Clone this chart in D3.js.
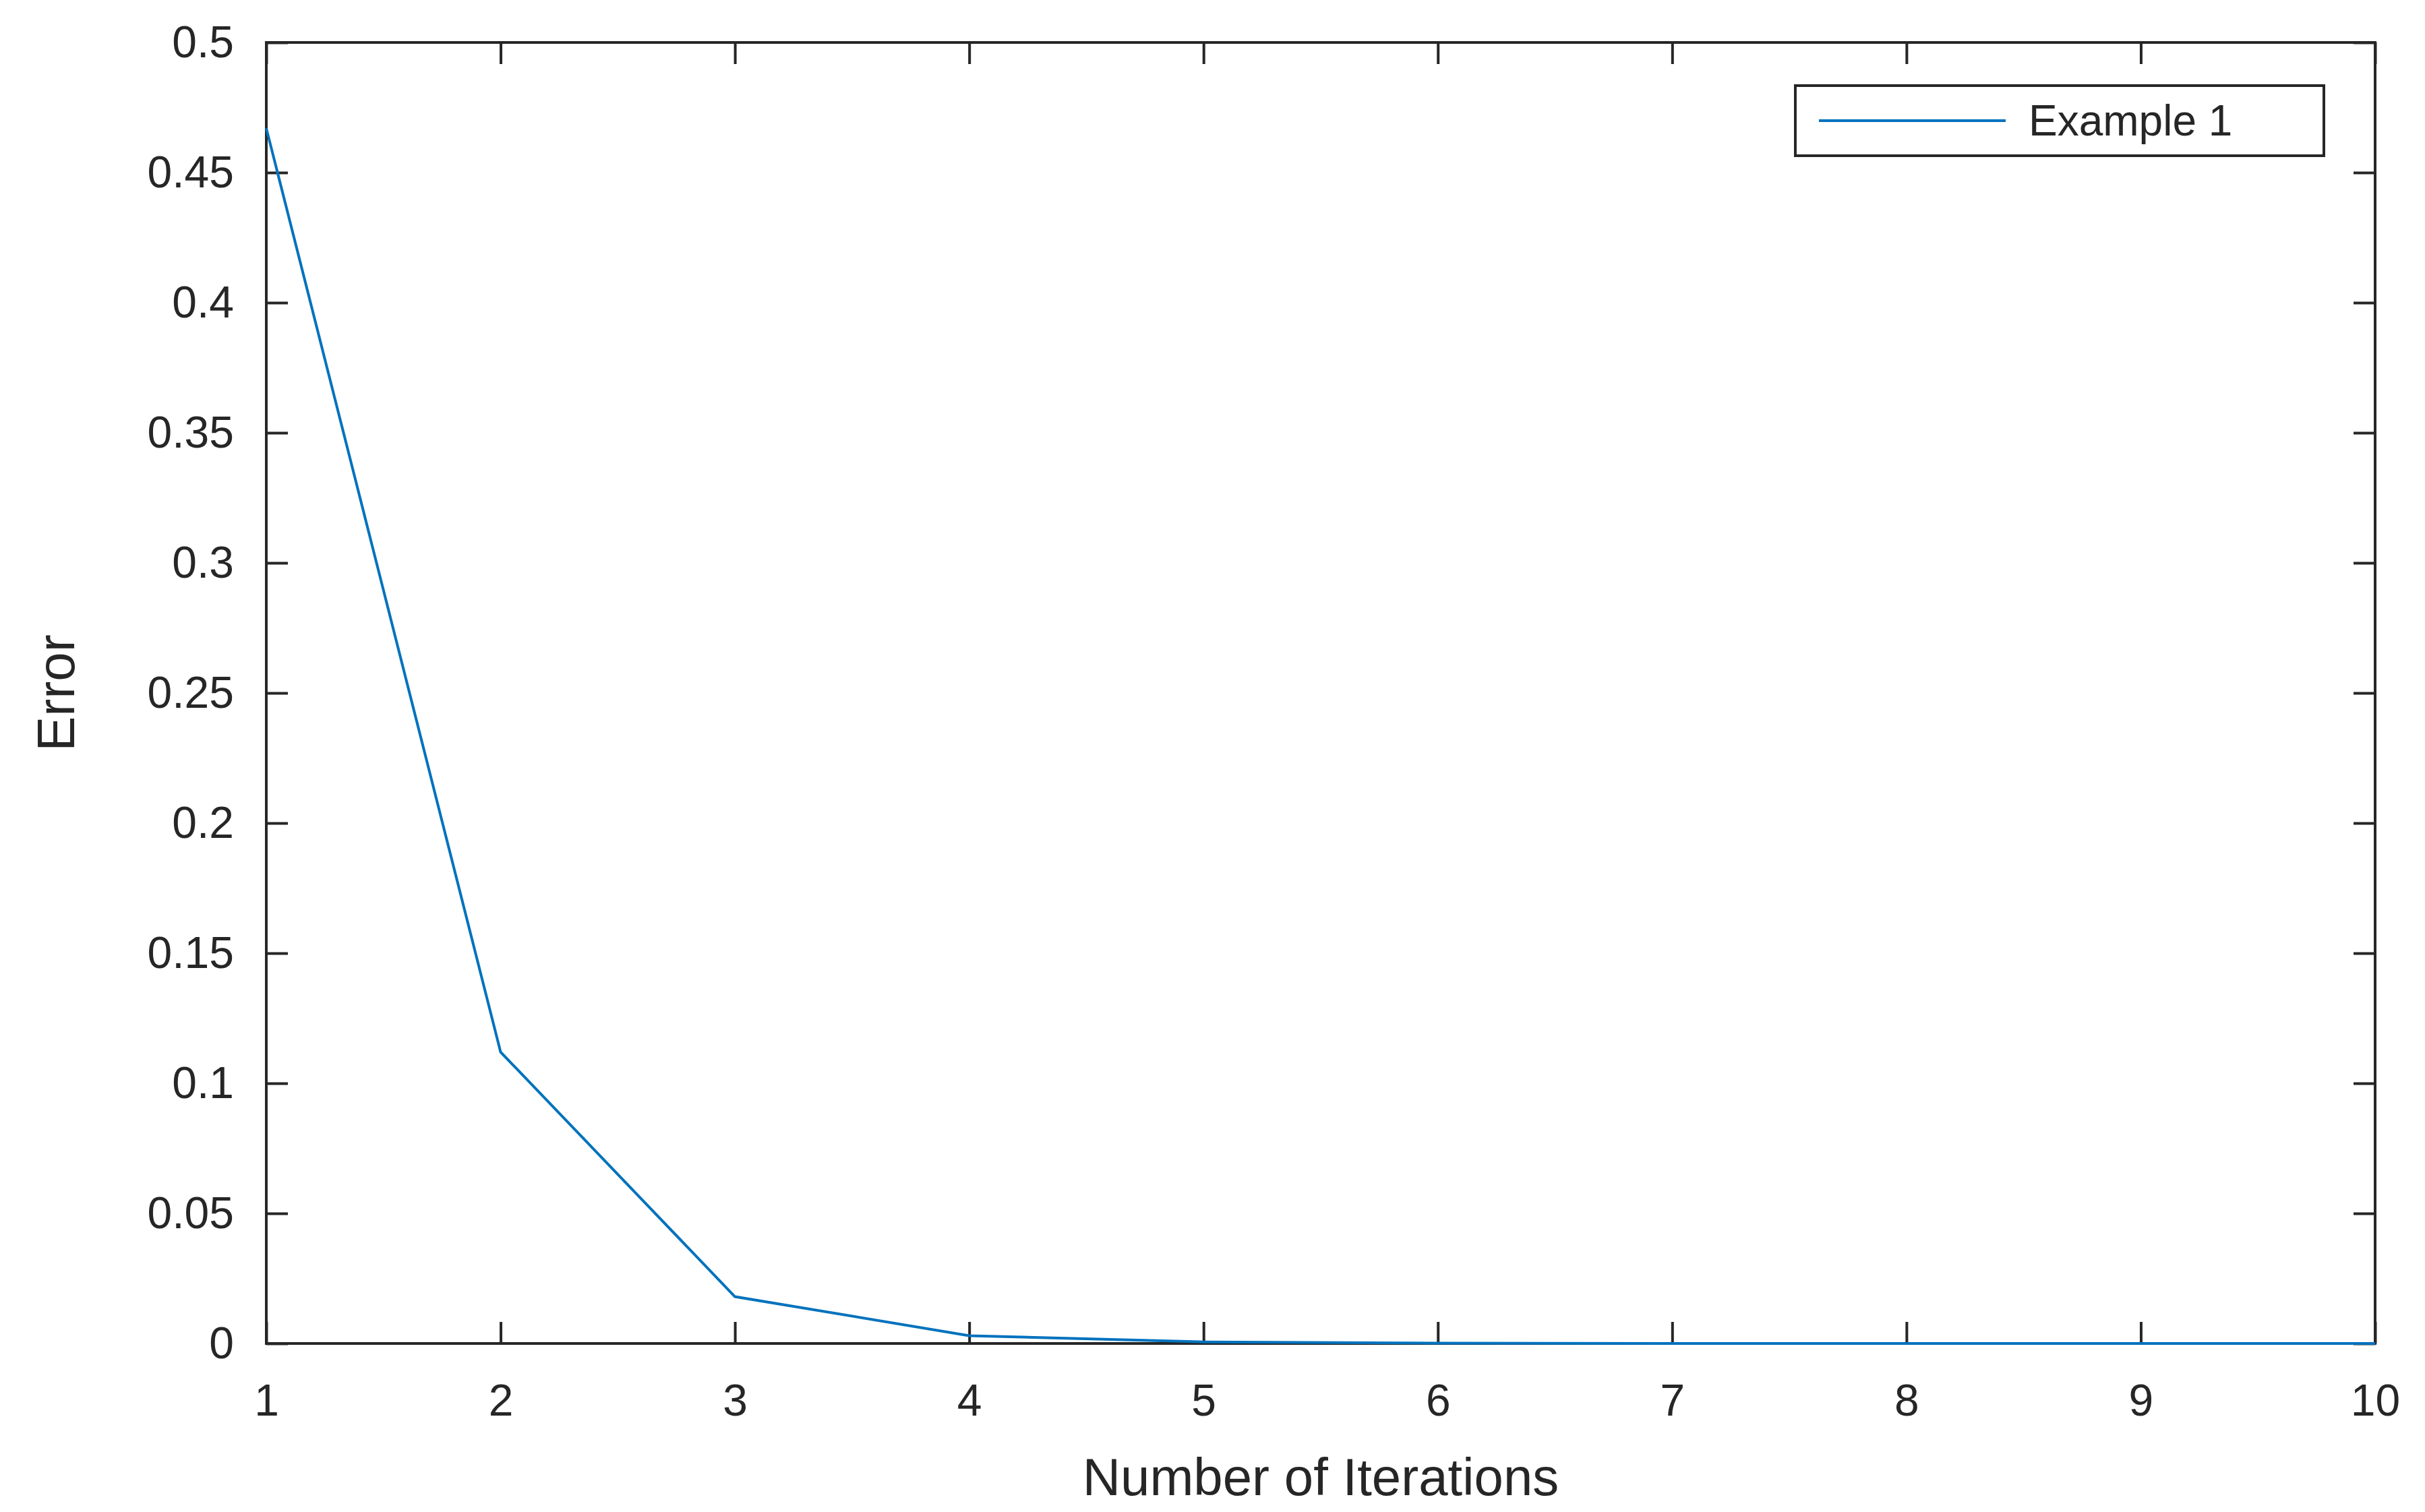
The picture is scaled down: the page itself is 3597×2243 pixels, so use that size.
<!DOCTYPE html>
<html>
<head>
<meta charset="utf-8">
<script src="https://cdn.jsdelivr.net/npm/d3@7"></script>
<style>
body{margin:0;background:#fff}
text{font-family:"Liberation Sans",Arial,sans-serif;fill:#262626}
</style>
</head>
<body>
<div id="chart"></div>
<script>
let iterations=[1,2,3,4,5,6,7,8,9,10]
let errors=[0.467,0.112,0.018,0.003,0.0006,0.0001,0.00002,0,0,0]
let xTicks=[1,2,3,4,5,6,7,8,9,10]
let yTicks=[0,0.05,0.1,0.15,0.2,0.25,0.3,0.35,0.4,0.45,0.5]
let seriesName="Example 1"

let svgWidth=3597,svgHeight=2243
let margin={top:63,right:74,bottom:250,left:395}
let w=svgWidth-margin.left-margin.right
let h=svgHeight-margin.top-margin.bottom
let ink="#262626"

let svg=d3.select("#chart").append("svg")
  .attr("width",svgWidth).attr("height",svgHeight)
let g=svg.append("g").attr("transform",`translate(${margin.left},${margin.top})`)

let x=d3.scaleLinear().domain([1,10]).range([0,w])
let y=d3.scaleLinear().domain([0,0.5]).range([h,0])
let fmt=d=>String(+d.toFixed(2))

function styleAxis(sel,labels){
  sel.select(".domain").remove()
  sel.selectAll(".tick line").attr("stroke",ink).attr("stroke-width",4)
  sel.selectAll(".tick text").style("font-size",labels?"66px":"0px")
}
// bottom/left with labels, top/right mirrored ticks
g.append("g").attr("transform",`translate(0,${h})`)
  .call(d3.axisBottom(x).tickValues(xTicks).tickSize(-32).tickPadding(60).tickFormat(fmt))
  .call(s=>styleAxis(s,true))
g.append("g")
  .call(d3.axisTop(x).tickValues(xTicks).tickSize(-32).tickFormat(""))
  .call(s=>styleAxis(s,false))
g.append("g")
  .call(d3.axisLeft(y).tickValues(yTicks).tickSize(-32).tickPadding(48).tickFormat(fmt))
  .call(s=>styleAxis(s,true))
g.append("g").attr("transform",`translate(${w},0)`)
  .call(d3.axisRight(y).tickValues(yTicks).tickSize(-32).tickFormat(""))
  .call(s=>styleAxis(s,false))

g.append("rect").attr("width",w).attr("height",h)
  .attr("fill","none").attr("stroke",ink).attr("stroke-width",4)

let data=iterations.map((d,i)=>({x:d,y:errors[i]}))
g.append("path").datum(data)
  .attr("fill","none").attr("stroke","#0072BD").attr("stroke-width",4)
  .attr("d",d3.line().x(d=>x(d.x)).y(d=>y(d.y)))

// axis labels
g.append("text").attr("x",w/2).attr("y",h+225).attr("text-anchor","middle")
  .style("font-size","78px").text("Number of Iterations")
g.append("text").attr("transform",`translate(${-285},${h/2}) rotate(-90)`)
  .attr("text-anchor","middle").style("font-size","78px").text("Error")

// legend
let lg=g.append("g").attr("transform",`translate(${2663-margin.left},${127-margin.top})`)
lg.append("rect").attr("width",784).attr("height",104)
  .attr("fill","#fff").attr("stroke",ink).attr("stroke-width",4)
lg.append("line").attr("x1",35).attr("x2",312).attr("y1",52).attr("y2",52)
  .attr("stroke","#0072BD").attr("stroke-width",4)
lg.append("text").attr("x",346).attr("y",52).attr("dy","0.35em")
  .style("font-size","64px").text(seriesName)
</script>
</body>
</html>
